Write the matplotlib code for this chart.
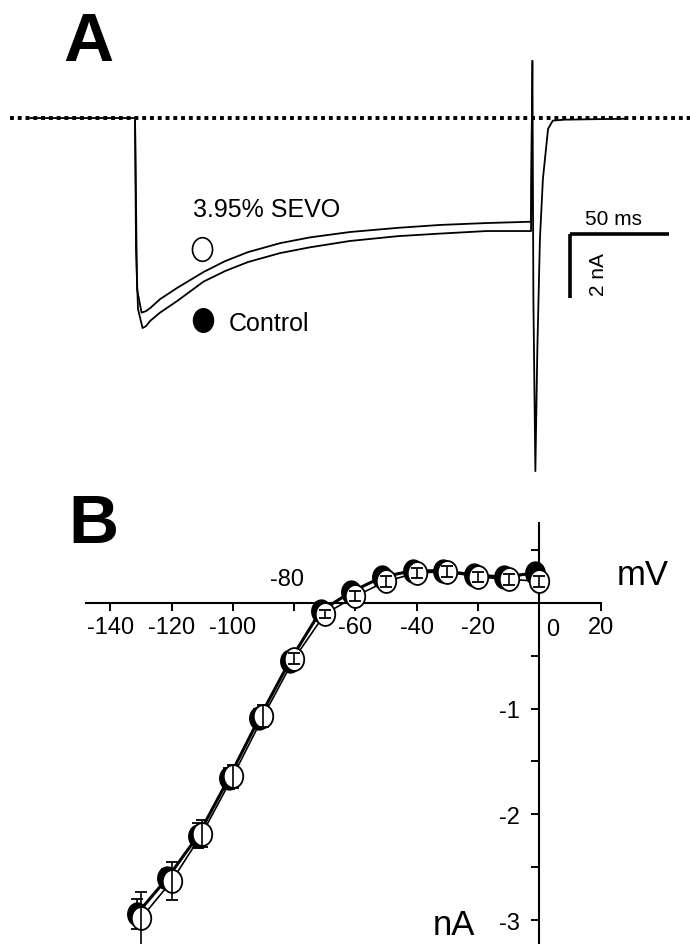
import numpy as np
import matplotlib.pyplot as plt
from matplotlib.path import Path
from matplotlib import transforms

plt.rcParams['font.family'] = ['Liberation Sans', 'DejaVu Sans']

# panel A: current traces (time in ms, current in nA)
ctrl_t = [-53, 0, 0.5, 1.5, 3.8, 5.6, 7.6, 12.6, 21.2, 34.6, 45.5, 57.0, 73.2, 88.2,
          108.6, 132.8, 154, 177.6, 199.5, 200, 200.7, 201.2, 202.2, 203.2, 204.5,
          206, 208.6, 211, 217, 248.5]
ctrl_i = [0, 0, -4.1, -5.97, -6.56, -6.5, -6.34, -6.08, -5.72, -5.11, -4.78, -4.5, -4.22, -4.04,
          -3.84, -3.69, -3.61, -3.53, -3.53, -3.53, 1.78, -5.66, -11.03, -7.22, -3.78,
          -1.91, -0.34, -0.08, -0.05, -0.02]
sevo_t = [0, 1, 3.3, 5.6, 7.8, 12.6, 21.2, 34.6, 45.5, 57.0, 73.2, 88.2, 108.6, 132.8,
          154, 177.6, 199.5, 200, 200.7]
sevo_i = [0, -5.34, -6.08, -6.03, -5.93, -5.66, -5.31, -4.81, -4.47, -4.19, -3.91, -3.73, -3.56, -3.43,
          -3.34, -3.28, -3.24, -3.24, 1.78]

# panel B: I-V relation
volts = [-130, -120, -110, -100, -90, -80, -70, -60, -50, -40, -30, -20, -10, 0]
ctrl_iv = [-2.94, -2.60, -2.20, -1.66, -1.09, -0.55, -0.08, 0.10, 0.24, 0.30, 0.30, 0.26, 0.24, 0.28]
ctrl_err = [0.14, 0.09, 0.12, 0.10, 0.09, 0.05, 0.04, 0.04, 0.04, 0.04, 0.04, 0.04, 0.04, 0.04]
sevo_iv = [-2.98, -2.63, -2.18, -1.64, -1.07, -0.53, -0.11, 0.06, 0.20, 0.28, 0.29, 0.24, 0.22, 0.20]
sevo_err = [0.25, 0.18, 0.13, 0.11, 0.10, 0.05, 0.04, 0.05, 0.05, 0.05, 0.05, 0.05, 0.05, 0.05]

xticks = [-140, -120, -100, -80, -60, -40, -20, 0, 20]
xlabels = ['-140', '-120', '-100', '', '-60', '-40', '-20', '', '20']
yticks = [-3, -2, -1]
ylabels = ['-3', '-2', '-1']
yminor = [-2.5, -1.5, -0.5, 0.5]

W, H = 690, 945
fig = plt.figure(figsize=(W / 100, H / 100), dpi=100)


def px_axes(x0, y0, x1, y1):
    return fig.add_axes([x0 / W, 1 - y1 / H, (x1 - x0) / W, (y1 - y0) / H])


def ftext(x, y, s, **kw):
    return fig.text(x / W, 1 - y / H, s, **kw)


# ---- A ----
axA = px_axes(0, 0, 690, 490)
axA.set_xlim(-68.2, 280.3)
axA.set_ylim(-11.59, 3.72)
axA.axis('off')

axA.axhline(0, xmin=10 / 690, xmax=1, color='black', lw=2.8, linestyle=(0, (1, 1)), zorder=1)
axA.plot(ctrl_t, ctrl_i, color='black', lw=1.3, zorder=2)
axA.plot(sevo_t, sevo_i, color='black', lw=1.3, zorder=2)

# scale bar 50 ms / 2 nA
sb_t, sb_i = 219.7, -3.62
axA.plot([sb_t, sb_t + 50], [sb_i, sb_i], color='black', lw=2.6, solid_capstyle='butt')
axA.plot([sb_t, sb_t], [sb_i, sb_i - 2], color='black', lw=2.6, solid_capstyle='butt')

ftext(63, 61, 'A', fontsize=50, fontweight='bold')
ftext(193, 217, '3.95% SEVO', fontsize=18)
ftext(229, 331, 'Control', fontsize=18)
ftext(585, 225, '50 ms', fontsize=15)
ftext(599, 275, '2 nA', fontsize=15, rotation=90, ha='center', va='center')

circ = Path.unit_circle()
ell = Path(circ.vertices * [0.85, 1.0], circ.codes)

axA.plot([202 / W], [1 - 250 / 490], transform=axA.transAxes, marker=ell, ms=17,
         mfc='white', mec='black', mew=1.2)
axA.plot([203 / W], [1 - 321 / 490], transform=axA.transAxes, marker=ell, ms=17,
         mfc='black', mec='black')

# ---- B ----
axB = px_axes(60, 495, 690, 945)
axB.set_xlim(-156.4, 49.2)
axB.set_ylim(-3.222, 1.024)
for s in ['top', 'right']:
    axB.spines[s].set_visible(False)
axB.spines['left'].set_position(('data', 0))
axB.spines['bottom'].set_position(('data', 0))
axB.spines['left'].set_bounds(-3.3, 0.75)
axB.spines['bottom'].set_bounds(-148, 20)
for s in ['left', 'bottom']:
    axB.spines[s].set_linewidth(1.5)

axB.set_xticks(xticks, xlabels)
axB.set_yticks(yticks, ylabels)
axB.set_yticks(yminor, minor=True)
axB.tick_params(axis='both', which='both', direction='out', length=6, width=1.4, labelsize=17)
axB.tick_params(axis='x', pad=4)
axB.tick_params(axis='y', pad=8)

axB.annotate('-80', xy=(-80, 0), xytext=(-5, 9), textcoords='offset points',
             ha='center', va='bottom', fontsize=17)
axB.annotate('0', xy=(0, 0), xytext=(9.5, -11), textcoords='offset points',
             ha='center', va='top', fontsize=17)

shift = transforms.offset_copy(axB.transData, fig=fig, x=-3, y=0, units='points')
axB.plot(volts, ctrl_iv, color='black', lw=2.2, marker=ell, ms=16.5, mfc='black',
         mec='black', transform=shift, zorder=3)
axB.plot(volts, sevo_iv, color='black', lw=1.2, marker=ell, ms=16.5, mfc='white',
         mec='black', mew=1.3, zorder=4)
axB.errorbar(volts, sevo_iv, yerr=sevo_err, fmt='none', ecolor='black', elinewidth=1.2,
             capsize=4, capthick=1.3, zorder=5)
axB.errorbar(volts, ctrl_iv, yerr=ctrl_err, fmt='none', ecolor='black', elinewidth=1.2,
             capsize=4, capthick=1.3, zorder=2, transform=shift)

ftext(68, 543, 'B', fontsize=50, fontweight='bold')
ftext(617, 585, 'mV', fontsize=25)
ftext(433, 935, 'nA', fontsize=25)

fig.savefig('out.png', dpi=100)
